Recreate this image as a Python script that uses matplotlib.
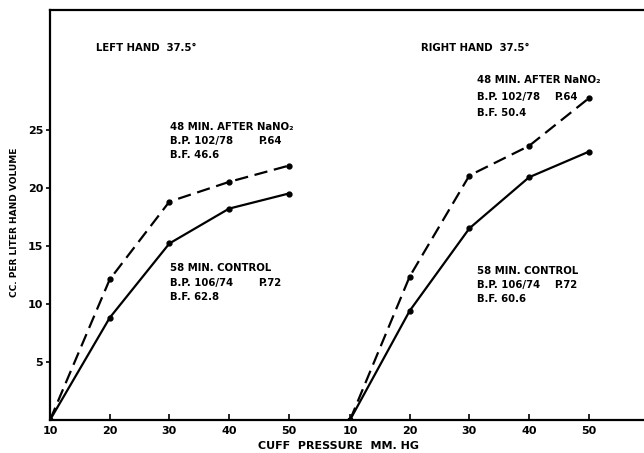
import matplotlib
matplotlib.use("Agg")
import matplotlib.pyplot as plt

# ---- data ----
pressure = [10, 20, 30, 40, 50]
left_control = [0, 8.8, 15.2, 18.2, 19.5]
left_nitrite = [0, 12.1, 18.8, 20.5, 21.9]
right_control = [0, 9.4, 16.5, 20.9, 23.1]
right_nitrite = [0, 12.35, 21.05, 23.6, 27.7]
y_ticks = [5, 10, 15, 20, 25]
x_tick_labels = ["10", "20", "30", "40", "50"]
right_offset = 50.25

plt.rcParams['font.family'] = ['DejaVu Sans']
plt.rcParams['font.weight'] = 'bold'

fig = plt.figure(figsize=(6.44, 4.53), dpi=100)
ax = fig.add_axes([50/644, 33/453, 594/644, 410/453])

right_x = [p + right_offset for p in pressure]

kw = dict(color='black', lw=1.6, marker='o', ms=3.5)
ax.plot(pressure, left_control, ls='-', **kw)
ax.plot(pressure, left_nitrite, ls=(0, (6, 3)), **kw)
ax.plot(right_x, right_control, ls='-', **kw)
ax.plot(right_x, right_nitrite, ls=(0, (6, 3)), **kw)

ax.set_xlim(10, 109.5)
ax.set_ylim(0, 35.3)
ax.spines['right'].set_visible(False)
for s in ['left', 'bottom', 'top']:
    ax.spines[s].set_linewidth(1.6)

ax.set_yticks(y_ticks)
ax.set_yticklabels([str(v) for v in y_ticks], fontsize=8, fontweight='bold')
ax.tick_params(axis='y', direction='out', length=3, width=1.2, pad=2)

ax.set_xticks(pressure + right_x)
ax.set_xticklabels(x_tick_labels + x_tick_labels, fontsize=8, fontweight='bold')
ax.tick_params(axis='x', direction='in', length=4, width=1.2, pad=4)

fig.text(15/644, 1 - 222/453, "CC. PER LITER HAND VOLUME", rotation=90,
         ha='center', va='center', fontsize=6.5, fontweight='bold')
fig.text(338/644, 1 - 446/453, "CUFF  PRESSURE  MM. HG", ha='center', va='center',
         fontsize=8, fontweight='bold')

def px(xp, yp, s, **k):
    fig.text(xp/644, 1 - yp/453, s, fontsize=7.3, fontweight='bold', va='center', ha='left', **k)

px(96, 48, "LEFT HAND  37.5°")
px(421, 48, "RIGHT HAND  37.5°")

px(170, 127, "48 MIN. AFTER NaNO₂")
px(170, 141, "B.P. 102/78")
px(258, 141, "P.64")
px(170, 155, "B.F. 46.6")

px(170, 268, "58 MIN. CONTROL")
px(170, 283, "B.P. 106/74")
px(258, 283, "P.72")
px(170, 297, "B.F. 62.8")

px(477, 80, "48 MIN. AFTER NaNO₂")
px(477, 97, "B.P. 102/78")
px(554, 97, "P.64")
px(477, 113, "B.F. 50.4")

px(477, 271, "58 MIN. CONTROL")
px(477, 285, "B.P. 106/74")
px(554, 285, "P.72")
px(477, 299, "B.F. 60.6")

fig.savefig("out.png", dpi=100)
